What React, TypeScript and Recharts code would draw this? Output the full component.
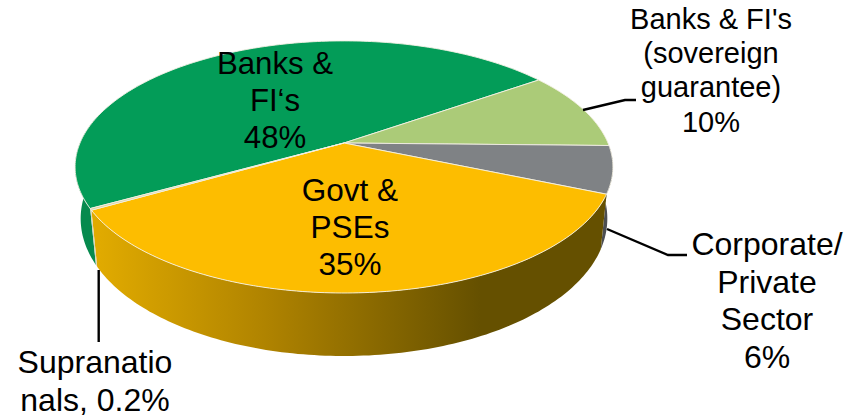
import React from "react";
import { PieChart, Pie } from "recharts";

const segmentNames = ["Banks & FI's", "Banks & FI's (sovereign guarantee)", "Corporate/Private Sector", "Govt & PSEs", "Supranationals"];
const segmentValues = [48, 10, 6, 35, 0.2];
const topFills = ["#039C58", "#ABCB78", "#7F8285", "#FDBD00", "#D9D2A0"];
const wallFills = ["#068A4E", "#8FAA64", "#4C4E52", "url(#goldWall)", "#D8D4B8"];
const labelLines = [
  ["Banks &", "FI‘s", "48%"],
  ["Banks & FI's", "(sovereign", "guarantee)", "10%"],
  ["Corporate/", "Private", "Sector", "6%"],
  ["Govt &", "PSEs", "35%"],
  ["Supranatio", "nals, 0.2%"],
];

const tableData = segmentNames.map((name, i) => ({
  name,
  value: segmentValues[i],
  fill: topFills[i],
  wall: wallFills[i],
  lines: labelLines[i],
}));

// Apex of the pie on screen and the perspective applied to its disc.
const APEX_X = 344;
const APEX_Y = 143;
const RADIUS = 264;
const DEPTH_SCALE = 121.5;
const TILT = 0.19;
const VANISH_Y = 2700;
const FIRST_ANGLE = -150.7;

const labelPlacement = [
  { x: 275, y: 74, size: 31.2, step: 37 },
  { x: 711, y: 29, size: 29, step: 34.2 },
  { x: 767, y: 255, size: 32, step: 37.5 },
  { x: 350, y: 201, size: 31.5, step: 37 },
  { x: 95, y: 373, size: 32, step: 38 },
];

const leaders: Record<number, string> = {
  1: "583,110 625,100 636,100",
  2: "607,229 668,255 687,255",
  4: "98.7,270 98.7,342",
};

function rim(t: number) {
  const a = (t * Math.PI) / 180;
  const u = Math.cos(a);
  const v = Math.sin(a);
  const w = 1 - TILT * v;
  return { x: APEX_X + (RADIUS * u) / w, y: APEX_Y + (DEPTH_SCALE * v) / w, v };
}

function floorRim(t: number) {
  const p = rim(t);
  const d = 50 + 13 * p.v;
  return { x: APEX_X + (p.x - APEX_X) * (1 - d / (VANISH_Y - p.y)), y: p.y + d };
}

function sweep(t0: number, t1: number) {
  const out: number[] = [];
  const n = Math.max(2, Math.ceil(Math.abs(t1 - t0)));
  for (let i = 0; i <= n; i++) out.push(t0 + ((t1 - t0) * i) / n);
  return out;
}

function TopSlice(props: any) {
  const t0 = -props.startAngle;
  const t1 = -props.endAngle;
  const pts = sweep(t0, t1).map(rim);
  const d = `M${APEX_X},${APEX_Y} ` + pts.map((p) => `L${p.x.toFixed(2)},${p.y.toFixed(2)}`).join(" ") + " Z";
  return <path d={d} fill={props.fill} stroke="#F4F1E4" strokeWidth={0.9} strokeLinejoin="round" />;
}

function WallSlice(props: any) {
  let t0 = -props.startAngle;
  let t1 = -props.endAngle;
  if (t0 >= 345) {
    t0 -= 360;
    t1 -= 360;
  }
  t0 = Math.max(t0, -15);
  t1 = Math.min(t1, 195);
  if (t1 <= t0) return <g />;
  const steps = sweep(t0, t1);
  const top = steps.map(rim);
  const floor = steps.map(floorRim).reverse();
  const d = [...top, ...floor].map((p, i) => `${i ? "L" : "M"}${p.x.toFixed(2)},${p.y.toFixed(2)}`).join(" ") + " Z";
  const wall = props.wall ?? props.payload?.wall;
  return (
    <g>
      <defs>
        <linearGradient id="goldWall" gradientUnits="userSpaceOnUse" x1={100} y1={0} x2={480} y2={0}>
          <stop offset="0" stopColor="#E0AA00" />
          <stop offset="0.45" stopColor="#AE8200" />
          <stop offset="1" stopColor="#655000" />
        </linearGradient>
      </defs>
      <path d={d} fill={wall} />
    </g>
  );
}

function SliceLabel(props: any) {
  const i: number = props.index;
  const place = labelPlacement[i];
  const lines: string[] = props.lines ?? props.payload?.lines ?? labelLines[i];
  return (
    <g>
      {leaders[i] && <polyline points={leaders[i]} fill="none" stroke="#000" strokeWidth={2.4} />}
      <text
        textAnchor="middle"
        fontFamily="'Liberation Sans', Arial, sans-serif"
        fontSize={place.size}
        fill="#000"
      >
        {lines.map((line, k) => (
          <tspan key={k} x={place.x} y={place.y + k * place.step}>
            {line}
          </tspan>
        ))}
      </text>
    </g>
  );
}

export default function App() {
  return (
    <div style={{ position: "absolute", left: 0, top: 0, width: 860, height: 417, background: "#fff" }}>
      <PieChart width={860} height={417} margin={{ top: 0, right: 0, bottom: 0, left: 0 }}>
        <Pie
          data={tableData}
          dataKey="value"
          nameKey="name"
          cx={APEX_X}
          cy={APEX_Y}
          outerRadius={RADIUS}
          startAngle={FIRST_ANGLE}
          endAngle={FIRST_ANGLE - 360}
          shape={WallSlice}
          stroke="none"
          isAnimationActive={false}
        />
        <Pie
          data={tableData}
          dataKey="value"
          nameKey="name"
          cx={APEX_X}
          cy={APEX_Y}
          outerRadius={RADIUS}
          startAngle={FIRST_ANGLE}
          endAngle={FIRST_ANGLE - 360}
          shape={TopSlice}
          label={SliceLabel}
          labelLine={false}
          isAnimationActive={false}
        />
      </PieChart>
    </div>
  );
}
